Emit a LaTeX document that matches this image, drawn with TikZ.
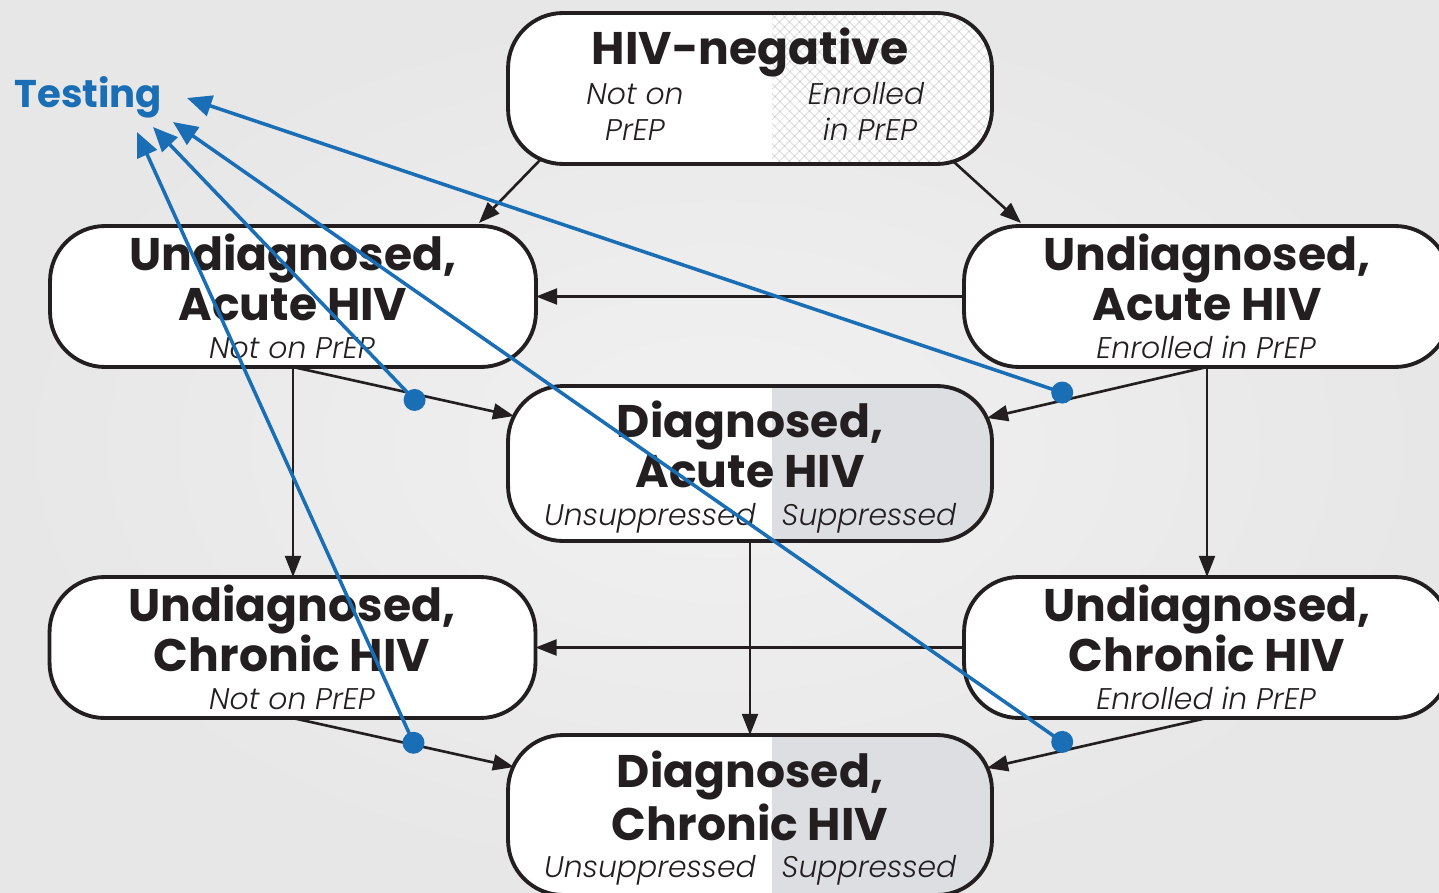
\documentclass[tikz,border=0pt]{standalone}
\usepackage{fontspec}
\setmainfont{Poppins}
\IfFontExistsTF{Poppins Light Italic}{\newfontfamily\subfont{Poppins Light Italic}}{\newfontfamily\subfont{Poppins Italic}}
\usetikzlibrary{arrows.meta,calc,patterns.meta}
\definecolor{bgin}{RGB}{241,241,241}
\definecolor{bgout}{RGB}{231,231,231}
\definecolor{tblue}{RGB}{26,110,182}
\definecolor{sgray}{RGB}{221,222,225}
\definecolor{hatchc}{RGB}{185,185,185}
\definecolor{ink}{RGB}{35,31,32}
\tikzset{
 box/.style={draw=ink, line width=2.2pt, rounded corners=1.1cm, fill=white, inner sep=0pt, outer sep=0pt},
 graysplit/.style={path picture={\fill[sgray, sharp corners] ([xshift=#1]path picture bounding box.north) rectangle (path picture bounding box.south east);}},
 hatchsplit/.style={path picture={\fill[sharp corners, pattern={Hatch[angle=45,distance=4pt,line width=0.3pt]},pattern color=hatchc] ([xshift=#1]path picture bounding box.north) rectangle (path picture bounding box.south east);}},
 ttl/.style={font=\fontsize{26}{30}\selectfont\bfseries, anchor=base, inner sep=0pt, text=ink},
 sub/.style={font=\fontsize{17}{20}\selectfont\subfont, anchor=base, inner sep=0pt, text=ink},
 flow/.style={draw=ink, line width=1.5pt, -{Triangle[length=12pt,width=9pt]}},
 test/.style={draw=tblue, line width=2pt, -{Triangle[length=14pt,width=12pt]}},
 dot/.style={circle, fill=tblue, inner sep=0pt, minimum size=0.44cm},
}
\begin{document}
\begin{tikzpicture}[x=0.02cm,y=-0.02cm]
\useasboundingbox (0,0) rectangle (1439,892);
\clip (0,0) rectangle (1439,892);
\shade[inner color=bgin, outer color=bgout] (0,0) rectangle (1439,892);

% boxes
\node[box, hatchsplit=0.44cm, minimum width=9.68cm, minimum height=3.02cm] (neg) at (750,88.5) {};
\node[box, minimum width=9.72cm, minimum height=2.82cm] (uaN) at (293,296.5) {};
\node[box, minimum width=9.72cm, minimum height=2.82cm] (uaE) at (1207,296.5) {};
\node[box, graysplit=0.44cm, minimum width=9.68cm, minimum height=3.1cm] (DA) at (750,463.5) {};
\node[box, minimum width=9.72cm, minimum height=2.82cm] (ucN) at (292.5,647.5) {};
\node[box, minimum width=9.72cm, minimum height=2.82cm] (ucE) at (1207,647.5) {};
\node[box, graysplit=0.44cm, minimum width=9.68cm, minimum height=3.2cm] (DC) at (750,815) {};

% texts
\node[ttl] (negT) at (750,65) {HIV-negative};
\node[sub] (negA1) at (635,105) {Not on};
\node[sub] (negA2) at (635,140) {PrEP};
\node[sub] (negB1) at (866,105) {Enrolled};
\node[sub] (negB2) at (870,140) {in PrEP};

\node[ttl] (uaN1) at (293,270) {Undiagnosed,};
\node[ttl] (uaN2) at (293,320) {Acute HIV};
\node[sub] (uaN3) at (292,358) {Not on PrEP};

\node[ttl] (uaE1) at (1207,270) {Undiagnosed,};
\node[ttl] (uaE2) at (1207,320) {Acute HIV};
\node[sub] (uaE3) at (1206,358) {Enrolled in PrEP};

\node[ttl] (DA1) at (750,437) {Diagnosed,};
\node[ttl] (DA2) at (750,487) {Acute HIV};
\node[sub] (DA3) at (650,525) {Unsuppressed};
\node[sub] (DA4) at (869,525) {Suppressed};

\node[ttl] (ucN1) at (292,621) {Undiagnosed,};
\node[ttl] (ucN2) at (292,671) {Chronic HIV};
\node[sub] (ucN3) at (292,709) {Not on PrEP};

\node[ttl] (ucE1) at (1207,621) {Undiagnosed,};
\node[ttl] (ucE2) at (1207,671) {Chronic HIV};
\node[sub] (ucE3) at (1206,709) {Enrolled in PrEP};

\node[ttl] (DC1) at (750,787) {Diagnosed,};
\node[ttl] (DC2) at (750,840) {Chronic HIV};
\node[sub] (DC3) at (650,877) {Unsuppressed};
\node[sub] (DC4) at (869,877) {Suppressed};

\node[font=\fontsize{22}{26}\selectfont\bfseries, text=tblue, anchor=base west, inner sep=0pt] (testing) at (14,108) {Testing};

% flows
\draw[flow] ($(neg.south west)+(33,-5)$) -- ($(uaN.north east)+(-57,-3)$);
\draw[flow] ($(neg.south east)+(-38,-2)$) -- ($(uaE.north west)+(57,-3)$);
\draw[flow] (uaE.west) -- (uaN.east);
\draw[flow] (ucE.west) -- (ucN.east);
\draw[flow] (uaN.south) -- (uaN.south |- ucN.north);
\draw[flow] (uaE.south) -- (uaE.south |- ucE.north);
\draw[flow] (DA.south) -- (DC.north);
\draw[flow] (uaN.south) -- coordinate[pos=0.55, shift={(0,6)}] (d1) ($(DA.north west)+(6,30)$);
\draw[flow] (uaE.south) -- coordinate[pos=0.658, shift={(0,-8)}] (d2) ($(DA.north east)+(-5,32)$);
\draw[flow] (ucN.south) -- coordinate[pos=0.546, shift={(0,-2)}] (d3) ($(DC.north west)+(6,32)$);
\draw[flow] (ucE.south) -- coordinate[pos=0.658, shift={(0,-9)}] (d4) ($(DC.north east)+(-5,33)$);

% testing
\draw[test] (d1) -- ($(testing.base west)+(139,19)$);
\draw[test] (d2) -- ($(testing.base west)+(173,-10)$);
\draw[test] (d3) -- ($(testing.base west)+(123,24)$);
\draw[test] (d4) -- ($(testing.base west)+(159,14)$);
\node[dot] (dot1) at (d1) {};
\node[dot] (dot2) at (d2) {};
\node[dot] (dot3) at (d3) {};
\node[dot] (dot4) at (d4) {};
\end{tikzpicture}
\end{document}
